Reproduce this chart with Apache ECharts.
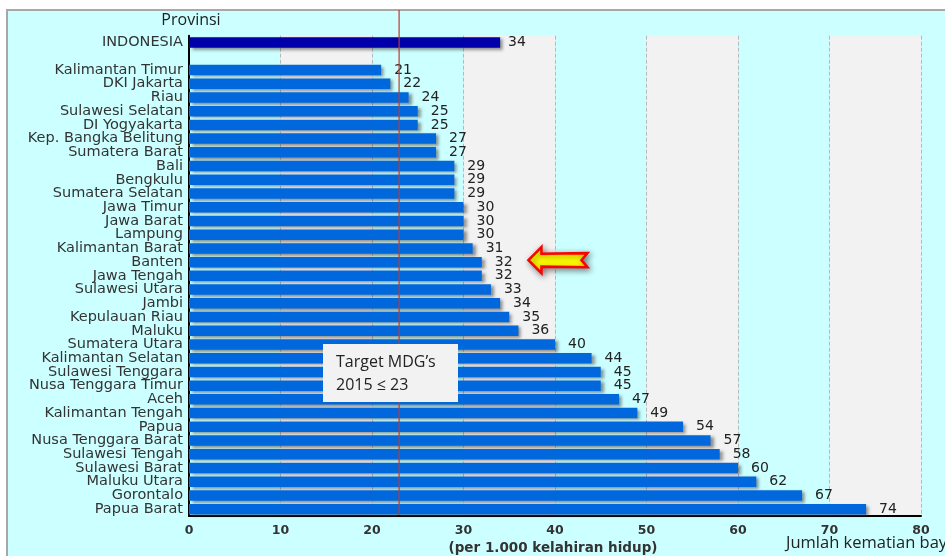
<!DOCTYPE html>
<html>
<head>
<meta charset="utf-8">
<script src="https://cdn.jsdelivr.net/npm/echarts@6/dist/echarts.min.js"></script>
<style>
  html, body { margin: 0; padding: 0; background: #ffffff; }
  #chart { width: 945px; height: 556px; }
</style>
</head>
<body>
<div id="chart"></div>
<script>
// Infant mortality per 1,000 live births, national figure and provinces
const nationalName = 'INDONESIA';
const nationalValue = 34;

const provinces = [
  'Kalimantan Timur', 'DKI Jakarta', 'Riau', 'Sulawesi Selatan', 'DI Yogyakarta',
  'Kep. Bangka Belitung', 'Sumatera Barat', 'Bali', 'Bengkulu', 'Sumatera Selatan',
  'Jawa Timur', 'Jawa Barat', 'Lampung', 'Kalimantan Barat', 'Banten',
  'Jawa Tengah', 'Sulawesi Utara', 'Jambi', 'Kepulauan Riau', 'Maluku',
  'Sumatera Utara', 'Kalimantan Selatan', 'Sulawesi Tenggara', 'Nusa Tenggara Timur', 'Aceh',
  'Kalimantan Tengah', 'Papua', 'Nusa Tenggara Barat', 'Sulawesi Tengah', 'Sulawesi Barat',
  'Maluku Utara', 'Gorontalo', 'Papua Barat'
];
const provinceValues = [
  21, 22, 24, 25, 25,
  27, 27, 29, 29, 29,
  30, 30, 30, 31, 32,
  32, 33, 34, 35, 36,
  40, 44, 45, 45, 47,
  49, 54, 57, 58, 60,
  62, 67, 74
];

const xTicks = [0, 10, 20, 30, 40, 50, 60, 70, 80];
const mdgTarget = 23;            // MDG 2015 target (≤ 23)
const highlighted = 'Banten';    // province pointed at by the arrow

// category list: national row, a spacer row, then provinces
const categories = [nationalName, ''].concat(provinces);

const barData = [
  {
    value: nationalValue,
    itemStyle: { color: '#0000aa' },
    label: { distance: 8 }
  },
  '-'
].concat(provinceValues.map(v => ({ value: v })));

const chart = echarts.init(document.getElementById('chart'), null, { renderer: 'canvas' });

const option = {
  backgroundColor: '#ffffff',
  animation: false,
  grid: { left: 189, right: 24, top: 35.7, bottom: 40, containLabel: false },
  xAxis: {
    type: 'value',
    min: xTicks[0],
    max: xTicks[xTicks.length - 1],
    interval: 10,
    axisLine: { show: true, lineStyle: { color: '#000000', width: 2 } },
    axisTick: { show: false },
    axisLabel: {
      margin: 8,
      color: '#333333',
      fontFamily: 'DejaVu Sans',
      fontWeight: 'bold',
      fontSize: 12.5
    },
    splitLine: { show: true, lineStyle: { color: '#b8b8b8', type: 'dashed', width: 1 } },
    splitArea: { show: true, areaStyle: { color: ['#ccffff', '#f2f2f2'] } }
  },
  yAxis: {
    type: 'category',
    inverse: true,
    data: categories,
    axisLine: { show: true, onZero: false, lineStyle: { color: '#000000', width: 2 } },
    axisTick: { show: false },
    axisLabel: {
      interval: 0,
      margin: 6,
      color: '#333333',
      fontFamily: 'DejaVu Sans',
      fontSize: 14.5
    },
    splitLine: { show: false }
  },
  series: [{
    type: 'bar',
    data: barData,
    barWidth: 10.5,
    itemStyle: {
      color: '#0068dc',
      shadowColor: 'rgba(60,60,60,0.55)',
      shadowBlur: 3,
      shadowOffsetX: 3,
      shadowOffsetY: 2
    },
    label: {
      show: true,
      position: 'right',
      distance: 13,
      color: '#222222',
      fontFamily: 'DejaVu Sans',
      fontSize: 14
    },
    z: 3
  }],
  graphic: []
};

chart.setOption(option);

// annotations placed from the axes' own scales
const gridRect = chart.getModel().getComponent('grid').coordinateSystem.getRect();
const targetX = chart.convertToPixel({ xAxisIndex: 0 }, mdgTarget);
const arrowY = chart.convertToPixel({ yAxisIndex: 0 }, highlighted) - 2;
const arrowTipX = chart.convertToPixel({ xAxisIndex: 0 }, 37.1);

chart.setOption({
  graphic: [
    // outer panel
    {
      type: 'rect', z: -100, silent: true,
      shape: { x: 7, y: 10, width: 960, height: 570 },
      style: { fill: '#ccffff', stroke: '#a8a8a8', lineWidth: 2 }
    },
    // axis title above the categories
    {
      type: 'text', z: 10,
      x: 191, y: 20,
      style: {
        text: 'Provinsi', fill: '#222222',
        font: '16px "Open Sans"', align: 'center', verticalAlign: 'middle'
      }
    },
    // MDG target line, drawn as a thin filled strip
    {
      type: 'rect', z: 100, silent: true,
      shape: {
        x: Math.round(targetX) - 0.5, y: 10,
        width: 1.2, height: gridRect.y + gridRect.height - 11
      },
      style: { fill: '#c0392f' }
    },
    // target note
    {
      type: 'rect', z: 110,
      shape: { x: 323, y: 344, width: 135, height: 58 },
      style: { fill: '#f2f2f2' }
    },
    {
      type: 'text', z: 111,
      x: 336, y: 362,
      style: {
        text: 'Target MDG\u2019s', fill: '#222222',
        font: '16px "Open Sans"', align: 'left', verticalAlign: 'middle'
      }
    },
    {
      type: 'text', z: 111,
      x: 336, y: 385,
      style: {
        text: '2015 \u2264 23', fill: '#222222',
        font: '16px "Open Sans"', align: 'left', verticalAlign: 'middle'
      }
    },
    // arrow pointing at the highlighted province
    {
      type: 'polygon', z: 120,
      x: arrowTipX, y: arrowY,
      shape: {
        points: [
          [0, 0], [13, -13], [13, -6.5], [59, -7], [53, 0],
          [59, 7], [13, 6.5], [13, 13]
        ]
      },
      style: {
        fill: '#ffff00', stroke: '#ff0000', lineWidth: 2.5, lineJoin: 'miter',
        shadowColor: 'rgba(0,0,0,0.45)', shadowBlur: 6, shadowOffsetX: 2, shadowOffsetY: 2
      }
    },
    // x-axis titles
    {
      type: 'text', z: 10,
      x: 553, y: 548,
      style: {
        text: '(per 1.000 kelahiran hidup)', fill: '#333333',
        font: 'bold 13.5px "DejaVu Sans"', align: 'center', verticalAlign: 'middle'
      }
    },
    {
      type: 'text', z: 10,
      x: 786, y: 543,
      style: {
        text: 'Jumlah kematian bayi', fill: '#222222',
        font: '16.5px "Open Sans"', align: 'left', verticalAlign: 'middle'
      }
    }
  ]
});
</script>
</body>
</html>
